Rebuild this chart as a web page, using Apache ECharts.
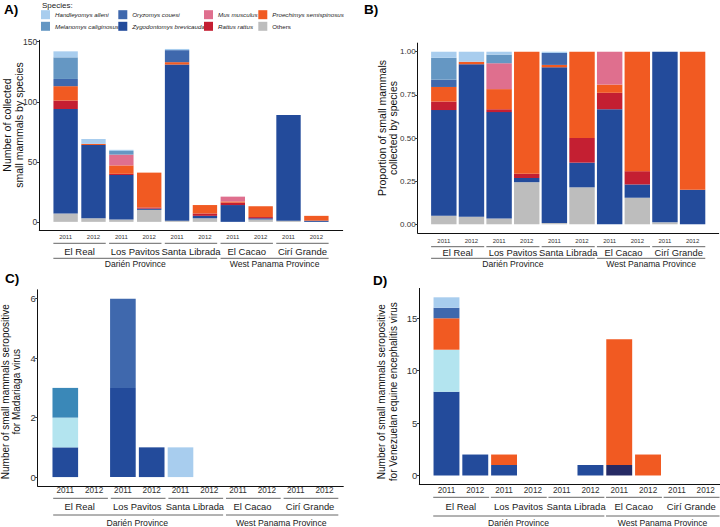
<!DOCTYPE html>
<html><head><meta charset="utf-8">
<script src="https://cdn.jsdelivr.net/npm/echarts@6/dist/echarts.min.js"></script>
<style>html,body{margin:0;padding:0;background:#fff}#c{width:720px;height:527px}</style>
</head><body><div id="c"></div>
<script>
// ---------------- data ----------------
const years = ['2011','2012','2011','2012','2011','2012','2011','2012','2011','2012'];
const sites = ['El Real','Los Pavitos','Santa Librada','El Cacao','Cirí Grande'];
const siteSpans = [[0,1],[2,3],[4,5],[6,7],[8,9]];
const provinces = ['Darién Province','West Panama Province'];
const provinceSpans = [[0,5],[6,9]];

// Panel A: number collected by species (stack bottom -> top)
const othersA       = [7, 3, 2, 10, 1, 3, 0, 2, 1, 0];
const zygodontomysA = [87, 61, 37, 1, 130, 2, 14, 1, 88, 1];
const rattusA       = [7, 0, 1, 1, 0, 2, 2, 1, 0, 0];
const proechimysA   = [12, 1, 7, 29, 2, 7, 1, 9, 0, 4];
const musA          = [0, 0, 9, 0, 0, 0, 4, 0, 0, 0];
const oryzomysA     = [6, 0, 0, 0, 10, 0, 0, 0, 0, 0];
const melanomysA    = [18, 0, 3, 0, 0, 0, 0, 0, 0, 0];
const handleyomysA  = [5, 4, 1, 0, 1, 0, 0, 0, 0, 0];

// Panel C: seropositive for Madariaga virus
const zygodontomysC = [1, 0, 3, 1, 0, 0, 0, 0, 0, 0];
const cyanC         = [1, 0, 0, 0, 0, 0, 0, 0, 0, 0];
const tealC         = [1, 0, 0, 0, 0, 0, 0, 0, 0, 0];
const oryzomysC     = [0, 0, 3, 0, 0, 0, 0, 0, 0, 0];
const handleyomysC  = [0, 0, 0, 0, 1, 0, 0, 0, 0, 0];

// Panel D: seropositive for VEE virus
const zygodontomysD = [8, 2, 1, 0, 0, 1, 0, 0, 0, 0];
const navyD         = [0, 0, 0, 0, 0, 0, 1, 0, 0, 0];
const cyanD         = [4, 0, 0, 0, 0, 0, 0, 0, 0, 0];
const proechimysD   = [3, 0, 1, 0, 0, 0, 12, 2, 0, 0];
const oryzomysD     = [1, 0, 0, 0, 0, 0, 0, 0, 0, 0];
const handleyomysD  = [1, 0, 0, 0, 0, 0, 0, 0, 0, 0];

const yTicksA = [0, 50, 100, 150];
const yTicksB = [0, 0.25, 0.5, 0.75, 1];
const yTicksC = [0, 2, 4, 6];
const yTicksD = [0, 5, 10, 15];

// ---------------- styles ----------------
const FF = "'Liberation Sans', Arial, Helvetica, sans-serif";
const COL = {
  hand:'#a8cdee', mel:'#6597c3', ory:'#3f68ad', zyg:'#234b9b', mus:'#df6f8e',
  rat:'#c41f32', pro:'#f15a22', oth:'#bdbdbd', cyan:'#b3e4ef', teal:'#3a88b8', navy:'#262a64'
};
const N = {
  hand:'Handleyomys alleni', mel:'Melanomys caliginosus', ory:'Oryzomys couesi',
  zyg:'Zygodontomys brevicauda', mus:'Mus musculus', rat:'Rattus rattus',
  pro:'Proechimys semispinosus', oth:'Others',
  cyan:'Other species (cyan)', teal:'Other species (teal)', navy:'Other species (navy)'
};

const stackA = [['oth',othersA],['zyg',zygodontomysA],['rat',rattusA],['pro',proechimysA],
                ['mus',musA],['ory',oryzomysA],['mel',melanomysA],['hand',handleyomysA]];
const totals = years.map((_, i) => stackA.reduce((s, p) => s + p[1][i], 0));
const stackB = stackA.map(([k, arr]) => [k, arr.map((v, i) => v / totals[i])]);
const stackC = [['zyg',zygodontomysC],['cyan',cyanC],['teal',tealC],['ory',oryzomysC],['hand',handleyomysC]];
const stackD = [['zyg',zygodontomysD],['navy',navyD],['cyan',cyanD],['pro',proechimysD],['ory',oryzomysD],['hand',handleyomysD]];

const panels = [
  {grid:{left:39.3, top:40.3, width:303.4, height:190.2}, xMin:-0.945, xMax:9.945, yMin:-7.2, yMax:151.2,
   ticks:yTicksA, fmt:v=>String(v), tickFont:8.5, bw:'87.5%', stack:stackA,
   lab:{yearOff:6.8, yearFont:6, line1:12.8, siteOff:20.5, siteFont:9.5, line2:27.8, provOff:33.8, provFont:8.6, ext:[0.44,0.44]}},
  {grid:{left:417.7, top:43.1, width:301, height:189.8}, xMin:-0.945, xMax:9.945, yMin:-0.05, yMax:1.05,
   ticks:yTicksB, fmt:v=>v.toFixed(2), tickFont:8, bw:'92%', stack:stackB,
   lab:{yearOff:7.8, yearFont:6, line1:13.8, siteOff:19.6, siteFont:9.4, line2:25.4, provOff:31.4, provFont:8.6, ext:[0.46,0.46]}},
  {grid:{left:37.7, top:289.8, width:305.6, height:196.2}, xMin:-0.958, xMax:9.653, yMin:-0.3, yMax:6.3,
   ticks:yTicksC, fmt:v=>String(v), tickFont:9.5, bw:'89%', stack:stackC,
   lab:{yearOff:4.7, yearFont:8.2, line1:12.3, siteOff:20, siteFont:9.4, line2:29, provOff:37.3, provFont:8.7, ext:[0.42,0.48]}},
  {grid:{left:419.3, top:288.4, width:300.7, height:196}, xMin:-0.944, xMax:9.496, yMin:-0.85, yMax:17.85,
   ticks:yTicksD, fmt:v=>String(v), tickFont:9.5, bw:'90%', stack:stackD,
   lab:{yearOff:6.3, yearFont:8.2, line1:12.9, siteOff:21.6, siteFont:9.5, line2:31.6, provOff:38.9, provFont:8.6, ext:[0.46,0.48]}}
];

function labelSeries(ax, p) {
  const items = [], texts = [];
  years.forEach((y, i) => { items.push([i, i, 0, 0]); texts.push(y); });
  siteSpans.forEach((s, k) => { items.push([s[0], s[1], 1, 0]); texts.push(sites[k]); });
  provinceSpans.forEach((s, k) => { items.push([s[0], s[1], 2, 0]); texts.push(provinces[k]); });
  const L = p.lab;
  return {
    type:'custom', xAxisIndex:ax, yAxisIndex:ax, clip:false, silent:true, z:5,
    data:items, encode:{x:[0,1], y:3},
    renderItem:(params, api) => {
      const s = api.value(0), e = api.value(1), lvl = api.value(2);
      const a = api.coord([s, p.yMin]), b = api.coord([e, p.yMin]);
      const u = api.size([1, 0])[0];
      const y0 = a[1];
      const txt = texts[params.dataIndex];
      if (lvl === 0) {
        return {type:'text', x:a[0], y:y0 + L.yearOff,
          style:{text:txt, align:'center', verticalAlign:'middle', font:L.yearFont + 'px ' + FF, fill:'#333'}};
      }
      const lo = lvl === 1 ? L.line1 : L.line2;
      const to = lvl === 1 ? L.siteOff : L.provOff;
      const fs = lvl === 1 ? L.siteFont : L.provFont;
      const x1 = a[0] - L.ext[0] * u, x2 = b[0] + L.ext[1] * u;
      return {type:'group', children:[
        {type:'line', shape:{x1:x1, y1:y0 + lo, x2:x2, y2:y0 + lo}, style:{stroke:'#555', lineWidth:0.9}},
        {type:'text', x:(a[0] + b[0]) / 2, y:y0 + to,
          style:{text:txt, align:'center', verticalAlign:'middle', font:fs + 'px ' + FF, fill:'#1a1a1a'}}
      ]};
    }
  };
}

const grid = [], xAxis = [], yAxis = [], series = [];
panels.forEach((p, g) => {
  const outer = 2 * g, inner = 2 * g + 1;
  const G = p.grid;
  const unit = G.width / (p.xMax - p.xMin);
  // outer grid: visible axes (value scales)
  grid.push(G);
  // inner grid: category band range for the bars
  grid.push({left:G.left + (-0.5 - p.xMin) * unit, top:G.top, width:years.length * unit, height:G.height});

  xAxis.push({type:'value', gridIndex:outer, min:p.xMin, max:p.xMax,
    axisLine:{show:true, onZero:false, lineStyle:{color:'#111', width:1}},
    axisTick:{show:false}, axisLabel:{show:false}, splitLine:{show:false}});
  yAxis.push({type:'value', gridIndex:outer, min:p.yMin, max:p.yMax,
    axisLine:{show:true, onZero:false, lineStyle:{color:'#111', width:1}},
    axisTick:{show:true, length:2.5, customValues:p.ticks, lineStyle:{color:'#333'}},
    axisLabel:{customValues:p.ticks, formatter:p.fmt, fontSize:p.tickFont, color:'#333', margin:2, fontFamily:FF},
    splitLine:{show:false}});
  xAxis.push({type:'category', gridIndex:inner, data:years.map((y, i) => i), boundaryGap:true, show:false});
  yAxis.push({type:'value', gridIndex:inner, min:p.yMin, max:p.yMax, show:false, splitLine:{show:false}});

  p.stack.forEach(([k, arr]) => {
    series.push({type:'bar', name:N[k], xAxisIndex:inner, yAxisIndex:inner, stack:'s' + g, barWidth:p.bw,
      data:arr.slice(), itemStyle:{color:COL[k]}, silent:true, emphasis:{disabled:true}});
  });
  series.push(labelSeries(outer, p));
});

const legendCols = [[N.hand, N.mel], [N.ory, N.zyg], [N.mus, N.rat], [N.pro, N.oth]];
const legendLeft = [41, 118.3, 204, 258.3];
const legend = legendCols.map((names, k) => ({
  orient:'vertical', left:legendLeft[k], top:10.2, padding:0, itemWidth:9, itemHeight:9, itemGap:2.6,
  icon:'rect', selectedMode:false,
  textStyle:{fontSize:6.2, fontStyle:'italic', color:'#222', fontFamily:FF},
  data:names.map(n => n === N.oth ? {name:n, textStyle:{fontStyle:'normal'}} : n)
}));

function title(x, y, text, size, lh) {
  return {type:'text', x:x, y:y, rotation:Math.PI / 2,
    style:{text:text, align:'center', verticalAlign:'middle', font:size + 'px ' + FF, lineHeight:lh, fill:'#111'}};
}
function letter(x, y, t) {
  return {type:'text', x:x, y:y, style:{text:t, verticalAlign:'middle', font:'bold 13.5px ' + FF, fill:'#000'}};
}

const chart = echarts.init(document.getElementById('c'), null, {renderer:'svg'});
chart.setOption({
  animation:false, backgroundColor:'#fff',
  grid, xAxis, yAxis, series, legend,
  graphic:[
    letter(4, 9, 'A)'), letter(364, 9, 'B)'), letter(5, 278, 'C)'), letter(373, 280, 'D)'),
    {type:'text', x:42, y:5.5, style:{text:'Species:', verticalAlign:'middle', font:'8px ' + FF, fill:'#222'}},
    title(12.8, 125, 'Number of collected\nsmall mammals by species', 10.5, 11.5),
    title(387.5, 128, 'Proportion of small mammals\ncollected by species', 10.5, 11.6),
    title(10.5, 391.7, 'Number of small mammals seropositive\nfor Madariaga virus', 10, 11),
    title(387.7, 391.7, 'Number of small mammals seropositive\nfor Venezuelan equine encephalitis virus', 10, 11.6)
  ]
});
</script></body></html>
